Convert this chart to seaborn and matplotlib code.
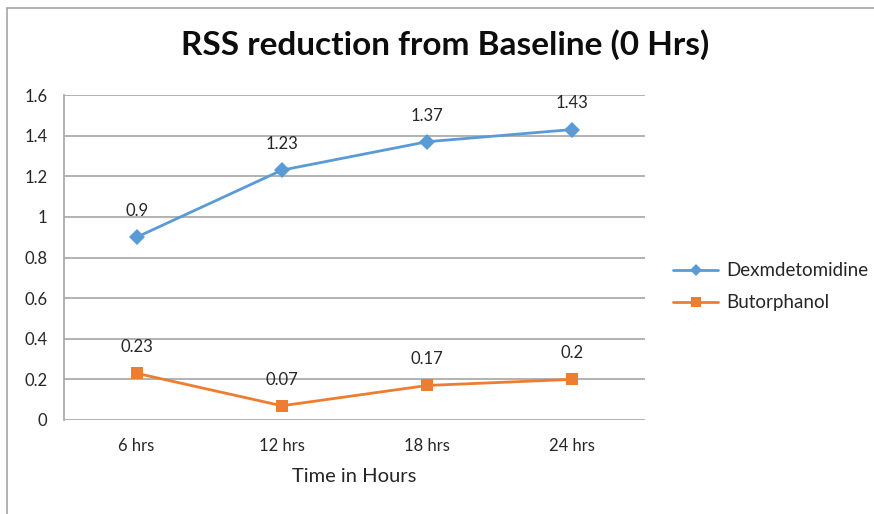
import pandas as pd
import matplotlib
matplotlib.use('Agg')
import matplotlib.pyplot as plt
import seaborn as sns
from matplotlib.lines import Line2D
from matplotlib.ticker import FuncFormatter

# data
time_points = ['6 hrs', '12 hrs', '18 hrs', '24 hrs']
dexmed = [0.9, 1.23, 1.37, 1.43]
butor = [0.23, 0.07, 0.17, 0.2]
series_names = ['Dexmdetomidine', 'Butorphanol']
y_ticks = [0, 0.2, 0.4, 0.6, 0.8, 1.0, 1.2, 1.4, 1.6]

sns.set_style('white')
plt.rcParams['font.family'] = ['Lato', 'DejaVu Sans']

df = pd.DataFrame({
    'time': time_points * 2,
    'value': dexmed + butor,
    'series': [series_names[0]] * 4 + [series_names[1]] * 4,
})

colors = {'Dexmdetomidine': '#5B9BD5', 'Butorphanol': '#ED7D31'}
markers = {'Dexmdetomidine': 'D', 'Butorphanol': 's'}

fig = plt.figure(figsize=(8.74, 5.14), dpi=100)
ax = fig.add_axes([64 / 874, 1 - 420 / 514, (645 - 64) / 874, (420 - 95) / 514])

sns.lineplot(data=df, x='time', y='value', hue='series', style='series',
             markers=markers, dashes=False, palette=colors, linewidth=2.0,
             markersize=8, markeredgewidth=0, ax=ax, sort=False)

ax.set_xlim(-0.5, 3.5)
ax.set_ylim(0, 1.6)
ax.set_yticks(y_ticks)
ax.yaxis.set_major_formatter(FuncFormatter(lambda v, p: f'{v:g}'))
ax.grid(axis='y', color='#a6a6a6', linewidth=1.2)
ax.set_axisbelow(True)
for s in ['top', 'right', 'bottom']:
    ax.spines[s].set_visible(False)
ax.spines['left'].set_color('#a6a6a6')
ax.spines['left'].set_linewidth(1.2)
ax.tick_params(axis='both', length=0, labelsize=12, colors='#262626')
ax.tick_params(axis='x', pad=13)
ax.tick_params(axis='y', pad=12)

ax.set_xlabel('Time in Hours', fontsize=14.5, color='#262626', labelpad=10)
ax.set_ylabel('')

# data labels
for vals in [dexmed, butor]:
    for i, v in enumerate(vals):
        ax.annotate(f'{v:g}', (i, v), xytext=(0, 13), textcoords='offset points',
                    ha='center', va='bottom', fontsize=12, color='#262626')

fig.text(445 / 874, 1 - 45 / 514, 'RSS reduction from Baseline (0 Hrs)',
         ha='center', va='center', fontsize=24, fontweight='bold', color='#0d0d0d')

handles = [Line2D([], [], color=colors[n], marker=markers[n], linewidth=2.0,
                  markersize=7 if n == 'Butorphanol' else 6, markeredgewidth=0)
           for n in series_names]
ax.legend(handles, series_names, loc='center left', bbox_to_anchor=(1.02, 0.41),
          frameon=False, fontsize=13.5, handlelength=2.4, labelspacing=0.8,
          handletextpad=0.4)

# outer chart border (cut off at right and bottom)
fig.add_artist(Line2D([7 / 874, 1], [1 - 8 / 514, 1 - 8 / 514], color='#a6a6a6',
                      linewidth=1.2, transform=fig.transFigure))
fig.add_artist(Line2D([7 / 874, 7 / 874], [0, 1 - 8 / 514], color='#a6a6a6',
                      linewidth=1.2, transform=fig.transFigure))

fig.savefig('out.png', dpi=100)
